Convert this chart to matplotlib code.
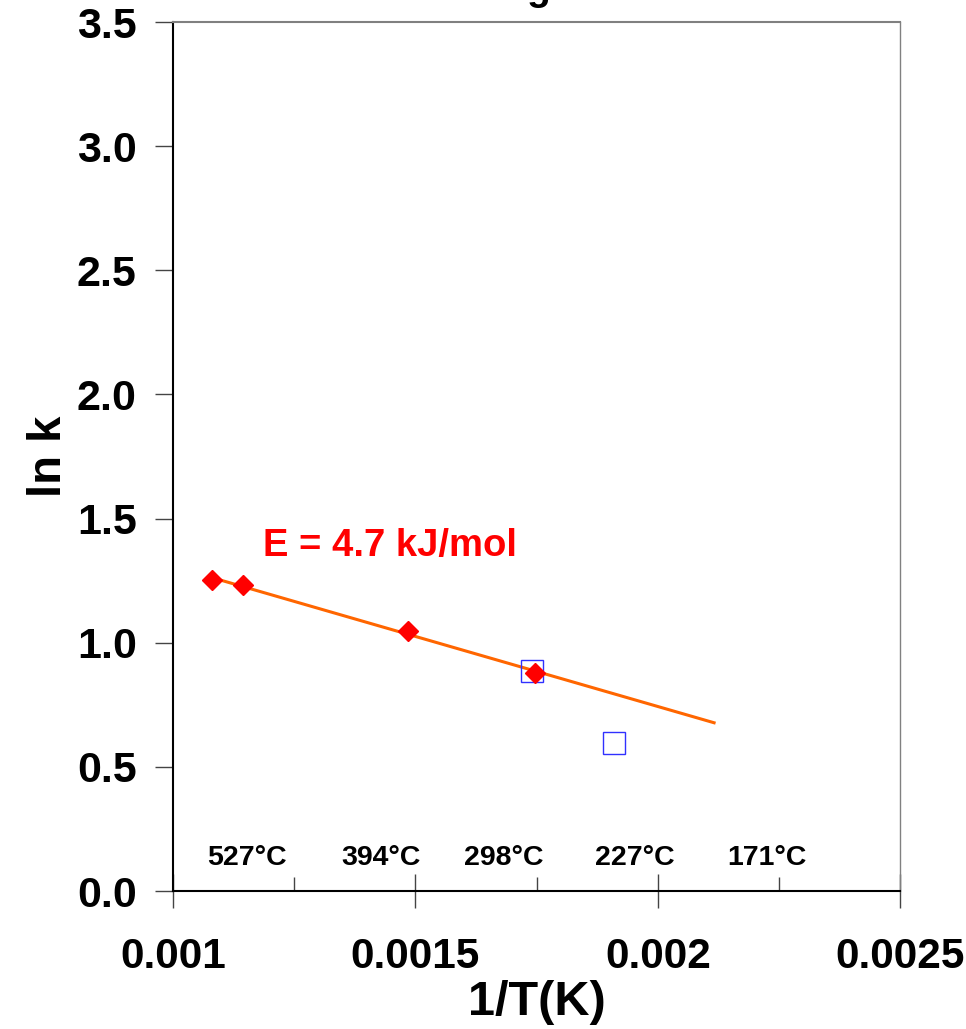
import numpy as np
import matplotlib
matplotlib.use("Agg")
import matplotlib.pyplot as plt
from matplotlib.ticker import MultipleLocator

plt.rcParams['font.family'] = ['Liberation Sans', 'DejaVu Sans']
plt.rcParams['font.weight'] = 'bold'

# measured points (1/T, ln k)
inv_t_red = [0.0010805, 0.0011444, 0.0014849, 0.001747]
lnk_red = [1.2525, 1.232, 1.047, 0.878]
inv_t_blue = [0.00174, 0.00191]
lnk_blue = [0.885, 0.596]

# range of the fitted line
fit_range = [0.00108, 0.002116]

# temperature labels along the bottom
temp_labels = ['527°C', '394°C', '298°C', '227°C', '171°C']
temp_x = [0.0011527, 0.001429, 0.001683, 0.001953, 0.002224]
temp_y = 0.133

energy_text = 'E = 4.7 kJ/mol'

fig = plt.figure(figsize=(9.66, 10.29), dpi=100)
ax = fig.add_axes([0.179, 0.134, 0.753, 0.8446])

coef = np.polyfit(inv_t_red, lnk_red, 1)
xl = np.array(fit_range)
ax.plot(xl, np.polyval(coef, xl), color='#ff6600', lw=2.2, zorder=2)

ax.plot(inv_t_blue, lnk_blue, 's', ms=16, mfc='none', mec='#3030ff',
        mew=1.0, zorder=3)
ax.plot(inv_t_red, lnk_red, 'D', ms=10, color='#ff0000', zorder=4)

ax.text(0.001448, 1.39, energy_text, color='#ff0000', fontsize=27.5,
        fontweight='bold', ha='center', va='center')

for lab, tx in zip(temp_labels, temp_x):
    ax.text(tx, temp_y, lab, fontsize=20.5, fontweight='bold', ha='center',
            va='center')

ax.set_xlim(0.001, 0.0025)
ax.set_ylim(0, 3.5)
ax.set_xticks([0.001, 0.0015, 0.002, 0.0025])
ax.set_xticklabels(['0.001', '0.0015', '0.002', '0.0025'])
ax.xaxis.set_minor_locator(MultipleLocator(0.00025))
ax.yaxis.set_major_locator(MultipleLocator(0.5))
ax.yaxis.set_major_formatter(matplotlib.ticker.FormatStrFormatter('%.1f'))

ax.tick_params(axis='x', which='major', direction='inout', length=24,
               width=1, labelsize=30.5, pad=21, color='#444444')
ax.tick_params(axis='x', which='minor', direction='in', length=10,
               width=1, color='#444444')
ax.tick_params(axis='y', which='major', direction='out', length=13,
               width=1, labelsize=31, pad=13, color='#444444')

for s in ['left', 'bottom']:
    ax.spines[s].set_color('black')
    ax.spines[s].set_linewidth(1.5)
ax.spines['top'].set_color('#808080')
ax.spines['right'].set_color('#808080')
ax.spines['top'].set_linewidth(1.5)
ax.spines['right'].set_linewidth(1.0)

ax.set_xlabel('1/T(K)', fontsize=35, fontweight='bold', labelpad=2)
ax.set_ylabel('ln k', fontsize=34, fontweight='bold', labelpad=4)

# title cut off at the top of the image, only the descender shows
fig.text(538 / 966, 1.0, 'g', fontsize=28, fontweight='bold',
         ha='center', va='baseline')

fig.savefig('out.png', dpi=100)
